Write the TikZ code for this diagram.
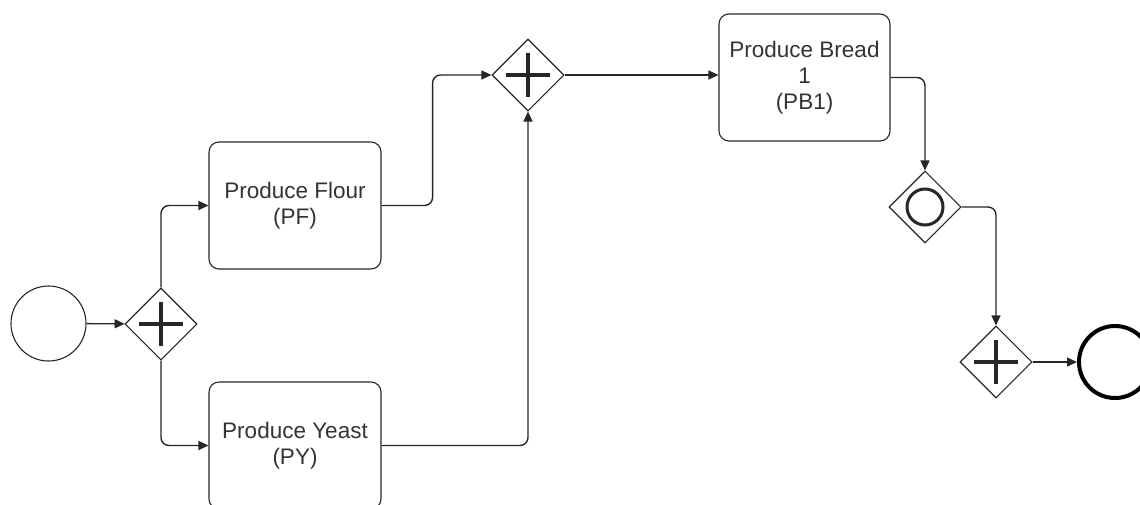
\documentclass[tikz,border=0pt]{standalone}
\usepackage{fontspec}
\setmainfont{Liberation Sans}
\usetikzlibrary{shapes.geometric,arrows.meta}
\begin{document}
\begin{tikzpicture}[x=1pt,y=-1pt,
  every node/.style={font=\fontsize{22.5}{26}\selectfont, text=black!80},
  task/.style={draw=black!85, line width=1.1pt, rounded corners=10pt, minimum width=172pt, minimum height=127pt, inner sep=0pt, align=center},
  gate/.style={draw=black!85, line width=1.1pt, diamond, minimum width=72pt, minimum height=72pt, inner sep=0pt},
  plusgate/.style={gate, path picture={
      \draw[line width=4pt] ([xshift=-22pt]path picture bounding box.center) -- ([xshift=22pt]path picture bounding box.center);
      \draw[line width=4pt] ([yshift=-22pt]path picture bounding box.center) -- ([yshift=22pt]path picture bounding box.center);}},
  orgate/.style={gate, path picture={
      \draw[line width=3pt] (path picture bounding box.center) circle (18pt);}},
  startev/.style={circle, draw=black!85, line width=1.1pt, minimum size=75pt, inner sep=0pt},
  endev/.style={circle, draw=black, line width=4pt, minimum size=72pt, inner sep=0pt},
  flow/.style={draw=black!85, line width=1.4pt, rounded corners=8pt, -{Triangle[length=10pt,width=9pt]}}
]
\useasboundingbox (0,0) rectangle (1140,504);
\clip (0,0) rectangle (1140,504);
\node[startev] (s) at (48.5,323.5) {};
\node[plusgate] (g1) at (161,324) {};
\node[task] (pf) at (295,205.5) {Produce Flour\\(PF)};
\node[task] (py) at (295,445.5) {Produce Yeast\\(PY)};
\node[plusgate] (g2) at (528,75) {};
\node[task, minimum width=171pt] (pb) at (804.5,77.5) {Produce Bread\\1\\(PB1)};
\node[orgate] (g3) at (925,207) {};
\node[plusgate] (g4) at (996,362) {};
\node[endev] (e) at (1115,362) {};

\draw[flow] (s) -- (g1);
\draw[flow] (g1.north) |- (pf.west);
\draw[flow] (g1.south) |- (py.west);
\draw[flow] (pf.east) -- ++(51,0) |- (g2.west);
\draw[flow] (py.east) -| (g2.south);
\draw[flow] (g2.east) -- (g2.east -| pb.west);
\draw[flow] (pb.east) -| (g3.north);
\draw[flow] (g3.east) -| (g4.north);
\draw[flow] (g4) -- (e);
\end{tikzpicture}
\end{document}
